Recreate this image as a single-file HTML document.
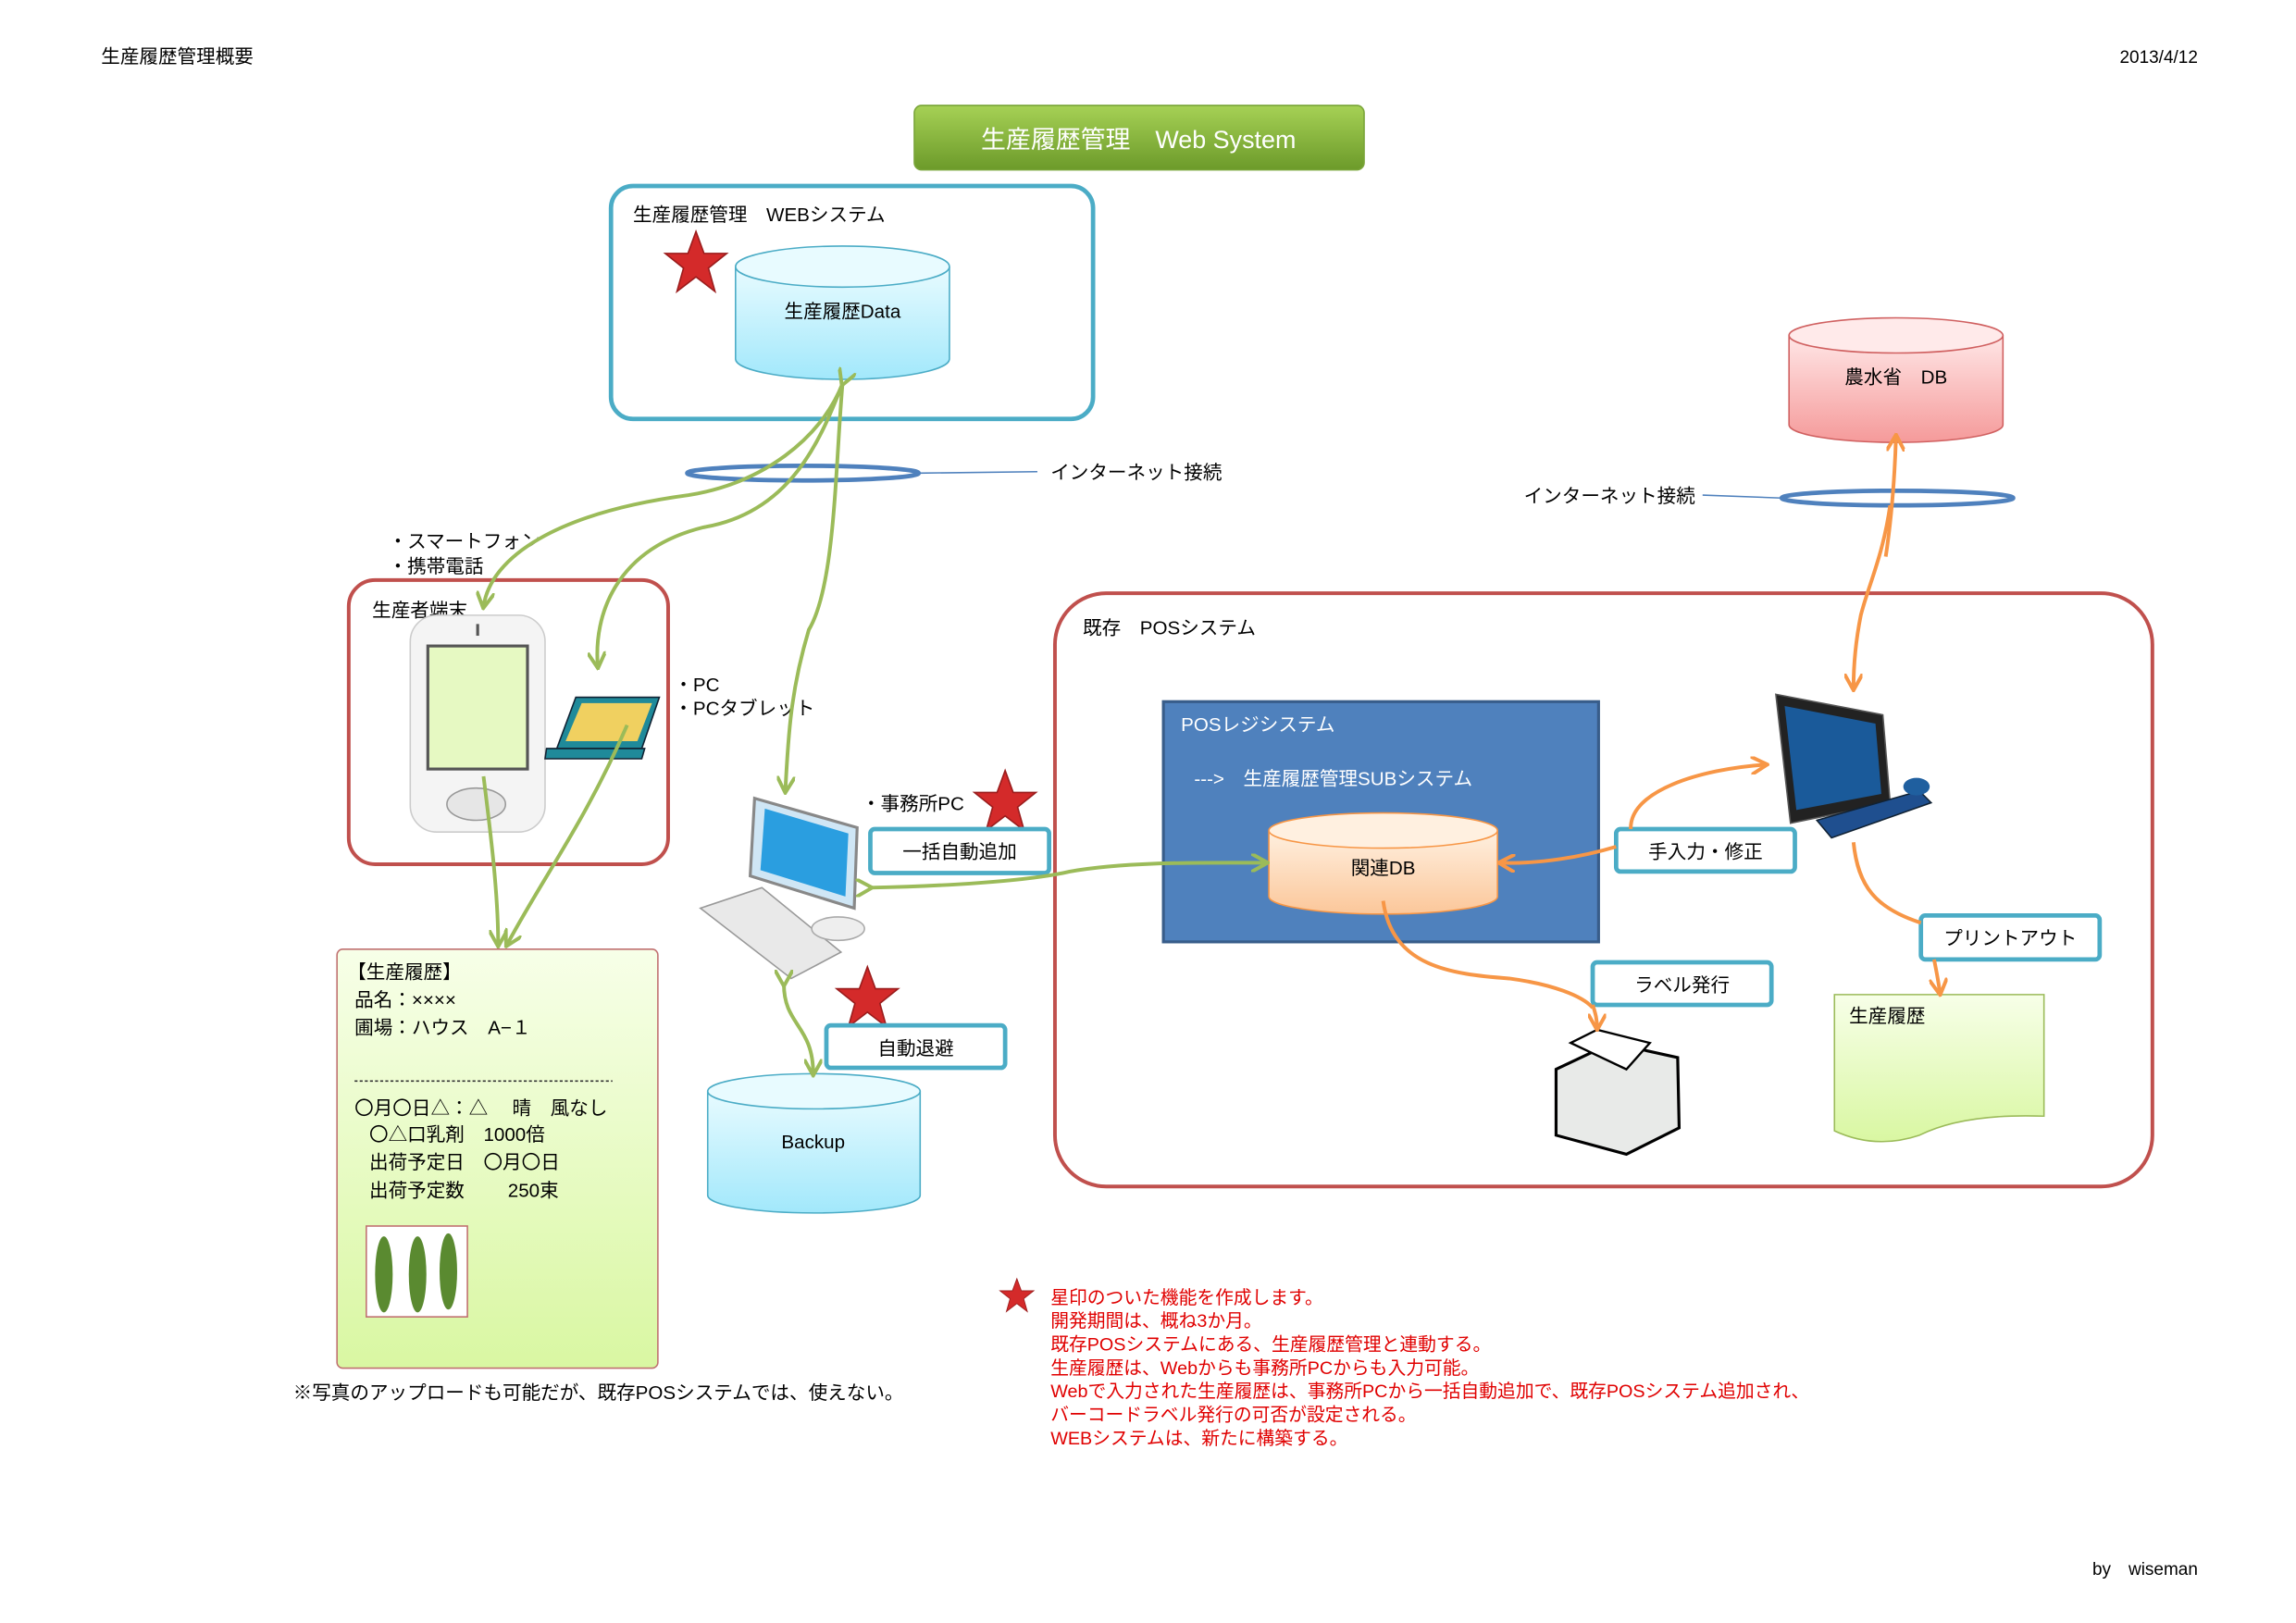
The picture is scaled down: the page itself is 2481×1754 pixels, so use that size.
<!DOCTYPE html>
<html><head><meta charset="utf-8"><style>
html,body{margin:0;padding:0;background:#fff;}
svg{display:block;font-family:"Liberation Sans","Noto Sans CJK JP",sans-serif;}
</style></head><body>
<svg width="2481" height="1754" viewBox="0 0 1567 1108" preserveAspectRatio="none" xmlns="http://www.w3.org/2000/svg">
<defs>
<linearGradient id="gBtn" x1="0" y1="0" x2="0" y2="1"><stop offset="0" stop-color="#a6d155"/><stop offset="1" stop-color="#6c9a2a"/></linearGradient>
<linearGradient id="gCyan" x1="0" y1="0" x2="0" y2="1"><stop offset="0" stop-color="#e8fbff"/><stop offset="1" stop-color="#a2e8fb"/></linearGradient>
<linearGradient id="gPink" x1="0" y1="0" x2="0" y2="1"><stop offset="0" stop-color="#ffe6e6"/><stop offset="1" stop-color="#f59a9a"/></linearGradient>
<linearGradient id="gOrange" x1="0" y1="0" x2="0" y2="1"><stop offset="0" stop-color="#fff0e0"/><stop offset="1" stop-color="#fbc79a"/></linearGradient>
<linearGradient id="gGreen" x1="0" y1="0" x2="0" y2="1"><stop offset="0" stop-color="#f7ffe8"/><stop offset="1" stop-color="#d9f7a2"/></linearGradient>
<marker id="ag" viewBox="0 0 10 10" refX="8" refY="5" markerWidth="5" markerHeight="5" orient="auto"><path d="M0,0 L9,5 L0,10" fill="none" stroke="#9bbb59" stroke-width="2"/></marker>
<marker id="ao" viewBox="0 0 10 10" refX="8" refY="5" markerWidth="5" markerHeight="5" orient="auto"><path d="M0,0 L9,5 L0,10" fill="none" stroke="#f79646" stroke-width="2"/></marker>
<g id="star"><polygon points="0,-22 5.5,-7 21,-7 8.5,3 13,19 0,9 -13,19 -8.5,3 -21,-7 -5.5,-7" fill="#d42a2a" stroke="#9a1c1c" stroke-width="1"/></g>
</defs>
<g font-size="13" fill="#000">
<text x="69" y="43">生産履歴管理概要</text>
<text x="1500" y="43" text-anchor="end" font-size="12">2013/4/12</text>
<text x="1500" y="1075" text-anchor="end" font-size="12">by　wiseman</text>
</g>
<rect x="624" y="72" width="307" height="44" rx="5" fill="url(#gBtn)" stroke="#7aa53a"/>
<text x="777" y="101" text-anchor="middle" fill="#fff" font-size="17">生産履歴管理　Web System</text>
<rect x="417" y="127" width="329" height="159" rx="15" fill="none" stroke="#4bacc6" stroke-width="3"/>
<text x="432" y="151" font-size="13">生産履歴管理　WEBシステム</text>
<use href="#star" x="475" y="180"/>
<path d="M502,182 V245 A73,14 0 0 0 648,245 V182" fill="url(#gCyan)" stroke="#4bacc6"/>
<ellipse cx="575" cy="182" rx="73" ry="14" fill="#e8fbff" stroke="#4bacc6"/>
<text x="575" y="217" text-anchor="middle" font-size="13">生産履歴Data</text>
<line x1="627" y1="323" x2="708" y2="322" stroke="#4f81bd"/>
<text x="717" y="327" font-size="13">インターネット接続</text>
<path d="M1221,229 V290 A73,12 0 0 0 1367,290 V229" fill="url(#gPink)" stroke="#d06060"/>
<ellipse cx="1294" cy="229" rx="73" ry="12" fill="#ffeaea" stroke="#d06060"/>
<text x="1294" y="262" text-anchor="middle" font-size="13">農水省　DB</text>
<line x1="1162" y1="338" x2="1216" y2="340" stroke="#4f81bd"/>
<text x="1040" y="343" font-size="13">インターネット接続</text>
<rect x="238" y="396" width="218" height="194" rx="18" fill="none" stroke="#c0504d" stroke-width="2.5"/>
<text x="254" y="421" font-size="13">生産者端末</text>
<text x="265" y="374" font-size="13">・スマートフォン</text>
<text x="265" y="391" font-size="13">・携帯電話</text>
<text x="460" y="472" font-size="13">・PC</text>
<text x="460" y="488" font-size="13">・PCタブレット</text>
<rect x="280" y="420" width="92" height="148" rx="18" fill="#f4f4f4" stroke="#ccc"/>
<rect x="292" y="441" width="68" height="84" fill="#e6f9c2" stroke="#555" stroke-width="2"/>
<ellipse cx="325" cy="549" rx="20" ry="11" fill="#e6e6e6" stroke="#999"/>
<line x1="326" y1="426" x2="326" y2="434" stroke="#555" stroke-width="2"/>
<polygon points="393,476 450,476 438,511 380,511" fill="#1f8a9a" stroke="#123"/>
<polygon points="397,480 445,480 435,506 386,506" fill="#f0d060"/>
<polygon points="373,511 440,511 438,518 372,518" fill="#1f8a9a" stroke="#123"/>
<polygon points="515,545 585,565 583,620 512,598" fill="#cfe6f5" stroke="#888" stroke-width="2"/>
<polygon points="522,552 579,569 577,612 519,594" fill="#2a9ee0"/>
<polygon points="478,620 520,606 574,650 540,668" fill="#e9e9e9" stroke="#999"/>
<ellipse cx="572" cy="634" rx="18" ry="8" fill="#eee" stroke="#aaa"/>
<text x="588" y="553" font-size="13">・事務所PC</text>
<use href="#star" x="686" y="548"/>
<rect x="594" y="566" width="122" height="30" rx="3" fill="#fff" stroke="#4bacc6" stroke-width="3"/>
<text x="655" y="586" text-anchor="middle" font-size="13">一括自動追加</text>
<use href="#star" x="592" y="682"/>
<rect x="564" y="700" width="122" height="29" rx="3" fill="#fff" stroke="#4bacc6" stroke-width="3"/>
<text x="625" y="720" text-anchor="middle" font-size="13">自動退避</text>
<path d="M483,745 V816 A72,12 0 0 0 628,816 V745" fill="url(#gCyan)" stroke="#4bacc6"/>
<ellipse cx="555.5" cy="745" rx="72.5" ry="12" fill="#e8fbff" stroke="#4bacc6"/>
<text x="555" y="784" text-anchor="middle" font-size="13">Backup</text>
<rect x="230" y="648" width="219" height="286" rx="4" fill="url(#gGreen)" stroke="#c07070"/>
<g font-size="13">
<text x="237" y="668">【生産履歴】</text>
<text x="242" y="687">品名：××××</text>
<text x="242" y="706">圃場：ハウス　A−１</text>
<line x1="242" y1="738" x2="418" y2="738" stroke="#333" stroke-dasharray="2,1.5"/>
<text x="242" y="761">〇月〇日△：△　 晴　風なし</text>
<text x="252" y="779">〇△口乳剤　1000倍</text>
<text x="252" y="798">出荷予定日　〇月〇日</text>
<text x="252" y="817">出荷予定数　　 250束</text>
</g>
<rect x="250" y="837" width="69" height="62" fill="#fff" stroke="#c07070"/>
<ellipse cx="262" cy="870" rx="6" ry="26" fill="#5a8a30"/><ellipse cx="285" cy="870" rx="6" ry="26" fill="#5a8a30"/><ellipse cx="306" cy="868" rx="6" ry="26" fill="#5a8a30"/>
<text x="200" y="955" font-size="13">※写真のアップロードも可能だが、既存POSシステムでは、使えない。</text>
<use href="#star" x="694" y="885" transform="translate(694,885) scale(0.55) translate(-694,-885)"/>
<g font-size="12.5" fill="#e00000">
<text x="717" y="890">星印のついた機能を作成します。</text>
<text x="717" y="906">開発期間は、概ね3か月。</text>
<text x="717" y="922">既存POSシステムにある、生産履歴管理と連動する。</text>
<text x="717" y="938">生産履歴は、Webからも事務所PCからも入力可能。</text>
<text x="717" y="954">Webで入力された生産履歴は、事務所PCから一括自動追加で、既存POSシステム追加され、</text>
<text x="717" y="970">バーコードラベル発行の可否が設定される。</text>
<text x="717" y="986">WEBシステムは、新たに構築する。</text>
</g>
<rect x="720" y="405" width="749" height="405" rx="35" fill="none" stroke="#c0504d" stroke-width="2.5"/>
<text x="739" y="433" font-size="13">既存　POSシステム</text>
<rect x="794" y="479" width="297" height="164" fill="#4f81bd" stroke="#385d8a" stroke-width="2"/>
<text x="806" y="499" fill="#fff" font-size="13">POSレジシステム</text>
<text x="815" y="536" fill="#fff" font-size="13">---&gt;　生産履歴管理SUBシステム</text>
<path d="M866,567 V612 A78,12 0 0 0 1022,612 V567" fill="url(#gOrange)" stroke="#f79646"/>
<ellipse cx="944" cy="567" rx="78" ry="12" fill="#fff0e0" stroke="#f79646"/>
<text x="944" y="597" text-anchor="middle" font-size="13">関連DB</text>
<rect x="1103" y="566" width="122" height="29" rx="3" fill="#fff" stroke="#4bacc6" stroke-width="3"/>
<text x="1164" y="586" text-anchor="middle" font-size="13">手入力・修正</text>
<rect x="1311" y="625" width="122" height="30" rx="3" fill="#fff" stroke="#4bacc6" stroke-width="3"/>
<text x="1372" y="645" text-anchor="middle" font-size="13">プリントアウト</text>
<rect x="1087" y="657" width="122" height="29" rx="3" fill="#fff" stroke="#4bacc6" stroke-width="3"/>
<text x="1148" y="677" text-anchor="middle" font-size="13">ラベル発行</text>
<polygon points="1212,474 1285,488 1290,548 1222,562" fill="#222" stroke="#555"/>
<polygon points="1218,482 1280,494 1284,542 1226,553" fill="#1a5a9a"/>
<polygon points="1240,560 1310,540 1318,548 1250,572" fill="#1f4f8f" stroke="#123"/>
<ellipse cx="1308" cy="537" rx="9" ry="6" fill="#1f5f9f"/>
<polygon points="1062,730 1100,712 1145,722 1146,770 1110,788 1062,775" fill="#e8eae8" stroke="#000" stroke-width="2"/>
<polygon points="1072,712 1090,703 1126,712 1110,730" fill="#fff" stroke="#000" stroke-width="1.5"/>
<path d="M1252,679 H1395 V762 Q1340,760 1310,775 Q1280,785 1252,772 Z" fill="url(#gGreen)" stroke="#9bbb59"/>
<text x="1262" y="698" font-size="13">生産履歴</text>
<ellipse cx="548" cy="323" rx="79" ry="5" fill="none" stroke="#4f81bd" stroke-width="3"/>
<ellipse cx="1295" cy="340" rx="79" ry="5" fill="none" stroke="#4f81bd" stroke-width="3"/>
<g fill="none" stroke="#9bbb59" stroke-width="2.5">
<path d="M575,262 C560,300 520,330 470,338 C380,350 335,380 330,414" marker-end="url(#ag)" marker-start="url(#ag)"/>
<path d="M575,262 C560,300 540,350 480,360 C420,375 405,420 408,455" marker-end="url(#ag)"/>
<path d="M575,262 C570,320 570,400 552,430 C540,470 538,500 536,540" marker-end="url(#ag)"/>
<path d="M330,530 C335,570 340,610 340,645" marker-end="url(#ag)"/>
<path d="M428,495 C400,560 370,600 346,645" marker-end="url(#ag)"/>
<path d="M594,606 C640,605 700,602 730,595 C770,588 820,589 864,589" marker-end="url(#ag)" marker-start="url(#ag)"/>
<path d="M535,672 C535,700 555,700 555,733" marker-end="url(#ag)" marker-start="url(#ag)"/>
</g>
<g fill="none" stroke="#f79646" stroke-width="2.5">
<path d="M1287,380 C1290,360 1293,330 1294,298" marker-end="url(#ao)"/>
<path d="M1290,345 C1285,380 1275,400 1270,420 C1266,440 1265,455 1265,470" marker-end="url(#ao)"/>
<path d="M1103,578 C1080,585 1050,590 1024,589" marker-end="url(#ao)"/>
<path d="M1113,566 C1112,540 1160,525 1205,522" marker-end="url(#ao)"/>
<path d="M1265,575 C1268,605 1280,620 1311,630"/>
<path d="M1320,655 C1322,665 1323,670 1324,678" marker-end="url(#ao)"/>
<path d="M944,615 C950,660 990,665 1030,668 C1060,672 1080,680 1087,688"/>
<path d="M1087,686 C1089,692 1090,696 1090,702" marker-end="url(#ao)"/>
</g>
</svg>
</body></html>
